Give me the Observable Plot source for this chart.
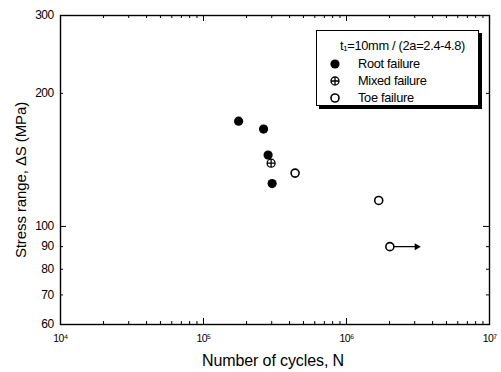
<!DOCTYPE html>
<html><head><meta charset="utf-8">
<script src="https://cdn.jsdelivr.net/npm/d3@7"></script>
<script src="https://cdn.jsdelivr.net/npm/@observablehq/plot@0.6"></script>
<style>
body{margin:0;background:#fff;}
#wrap{position:relative;width:501px;height:372px;font-family:"Liberation Sans",Arial,sans-serif;color:#000;overflow:hidden;}
#wrap svg{position:absolute;left:0;top:0;}
.ylab{position:absolute;left:20px;top:180px;transform:translate(-50%,-50%) rotate(-90deg);white-space:nowrap;font-size:15px;letter-spacing:-0.1px;}
.xlab{position:absolute;left:273px;top:352px;transform:translateX(-50%);white-space:nowrap;font-size:16px;letter-spacing:-0.1px;}
.legend{position:absolute;left:316px;top:30px;width:161px;height:74px;border:1px solid #000;background:#fff;box-shadow:3px 3px 0 #000;font-size:12.8px;letter-spacing:-0.3px;}
.legend .row{position:absolute;left:0;height:16px;line-height:16px;white-space:nowrap;}
.legend svg{position:absolute;}
</style></head><body><div id="wrap"></div>
<script>
// Data
const rootN = [1.76e5, 2.63e5, 2.83e5, 3.02e5];
const rootS = [173, 166, 145, 125];
const mixedN = [2.97e5];
const mixedS = [139];
const toeN = [4.37e5, 1.68e6, 2.01e6];
const toeS = [132, 114.5, 90];
const runoutStartN = [2.01e6];
const runoutEndN = [3.2e6];
const runoutS = [90];

// Tick labels
const xMajor = [1e4, 1e5, 1e6, 1e7];
const xMinorMult = [2, 3, 4, 5, 6, 7, 8, 9];
const yTicks = [60, 70, 80, 90, 100, 200, 300];
const yMajor = [100];
const yMinor = [70, 80, 90, 200];
const sup = {4: "\u2074", 5: "\u2075", 6: "\u2076", 7: "\u2077"};

const legendTitle = "t\u2081=10mm / (2a=2.4-4.8)";
const legendLabels = ["Root failure", "Mixed failure", "Toe failure"];

const xMinor = [];
for (const d of xMajor.slice(0, -1)) for (const m of xMinorMult) xMinor.push(d * m);

const root = rootN.map((n, i) => ({n, s: rootS[i]}));
const mixed = mixedN.map((n, i) => ({n, s: mixedS[i]}));
const toe = toeN.map((n, i) => ({n, s: toeS[i]}));
const runout = runoutStartN.map((n, i) => ({n1: n, n2: runoutEndN[i], s: runoutS[i]}));

const crossCircle = {
  draw(ctx, size) {
    const r = Math.sqrt(size / Math.PI);
    ctx.moveTo(r, 0); ctx.arc(0, 0, r, 0, 2 * Math.PI);
    ctx.moveTo(-r, 0); ctx.lineTo(r, 0);
    ctx.moveTo(0, -r); ctx.lineTo(0, r);
  }
};

const W = 501, H = 372, mL = 60, mR = 12, mT = 15, mB = 48;
const fw = W - mL - mR, fh = H - mT - mB;
const major = 6, minor = 3;

const chart = Plot.plot({
  width: W, height: H,
  marginLeft: mL, marginRight: mR, marginTop: mT, marginBottom: mB,
  style: {fontFamily: "'Liberation Sans', Arial, sans-serif", fontSize: "10.5px", color: "#000", background: "transparent", letterSpacing: "-0.6px"},
  x: {type: "log", domain: [1e4, 1e7]},
  y: {type: "log", domain: [60, 300]},
  marks: [
    Plot.frame({stroke: "#000", strokeWidth: 1.4}),
    // x ticks bottom and top
    Plot.ruleX(xMajor, {x: d => d, insetTop: fh - major, stroke: "#000", strokeWidth: 1}),
    Plot.ruleX(xMajor, {x: d => d, insetBottom: fh - major, stroke: "#000", strokeWidth: 1}),
    Plot.ruleX(xMinor, {x: d => d, insetTop: fh - minor, stroke: "#000", strokeWidth: 1}),
    Plot.ruleX(xMinor, {x: d => d, insetBottom: fh - minor, stroke: "#000", strokeWidth: 1}),
    // y ticks left and right
    Plot.ruleY(yMajor, {y: d => d, insetRight: fw - major, stroke: "#000", strokeWidth: 1}),
    Plot.ruleY(yMajor, {y: d => d, insetLeft: fw - major, stroke: "#000", strokeWidth: 1}),
    Plot.ruleY(yMinor, {y: d => d, insetRight: fw - minor, stroke: "#000", strokeWidth: 1}),
    Plot.ruleY(yMinor, {y: d => d, insetLeft: fw - minor, stroke: "#000", strokeWidth: 1}),
    Plot.axisX({ticks: xMajor, anchor: "bottom", tickSize: 0, tickPadding: 10, tickFormat: d => "10" + sup[Math.round(Math.log10(d))], label: null}),
    Plot.axisY({ticks: yTicks, anchor: "left", tickSize: 0, tickPadding: 7, fontSize: 12, tickFormat: d => String(d), label: null}),
    // runout arrow
    Plot.arrow(runout, {x1: "n1", x2: "n2", y1: "s", y2: "s", insetStart: 4.5, insetEnd: 2, headLength: 0, stroke: "#000", strokeWidth: 1.2}),
    Plot.dot(runout, {x: "n2", y: "s", symbol: "triangle", rotate: 90, r: 2.6, fill: "#000", dx: -2}),
    // data
    Plot.dot(root, {x: "n", y: "s", r: 4.6, fill: "#000", stroke: "none"}),
    Plot.dot(mixed, {x: "n", y: "s", r: 4, symbol: crossCircle, fill: "none", stroke: "#000", strokeWidth: 1.3}),
    Plot.dot(toe, {x: "n", y: "s", r: 4, fill: "#fff", stroke: "#000", strokeWidth: 1.6})
  ]
});

const wrap = document.getElementById("wrap");
wrap.appendChild(chart);

const ylab = document.createElement("div");
ylab.className = "ylab"; ylab.textContent = "Stress range, \u0394S (MPa)";
wrap.appendChild(ylab);
const xlab = document.createElement("div");
xlab.className = "xlab"; xlab.textContent = "Number of cycles, N";
wrap.appendChild(xlab);

// legend
const leg = document.createElement("div");
leg.className = "legend";
const title = document.createElement("div");
title.className = "row"; title.style.left = "23px"; title.style.top = "7px";
title.textContent = legendTitle;
leg.appendChild(title);
const symbols = [
  '<circle cx="6" cy="6" r="4.6" fill="#000"/>',
  '<circle cx="6" cy="6" r="4" fill="none" stroke="#000" stroke-width="1.3"/><path d="M2,6H10M6,2V10" stroke="#000" stroke-width="1.3"/>',
  '<circle cx="6" cy="6" r="4" fill="#fff" stroke="#000" stroke-width="1.6"/>'
];
const rowsY = [25, 42, 59];
legendLabels.forEach((lab, i) => {
  const svg = document.createElementNS("http://www.w3.org/2000/svg", "svg");
  svg.setAttribute("width", 12); svg.setAttribute("height", 12);
  svg.style.left = "12px"; svg.style.top = (rowsY[i] + 2) + "px";
  svg.innerHTML = symbols[i];
  leg.appendChild(svg);
  const t = document.createElement("div");
  t.className = "row"; t.style.left = "41px"; t.style.top = rowsY[i] + "px";
  t.textContent = lab;
  leg.appendChild(t);
});
wrap.appendChild(leg);
</script>
</body></html>
